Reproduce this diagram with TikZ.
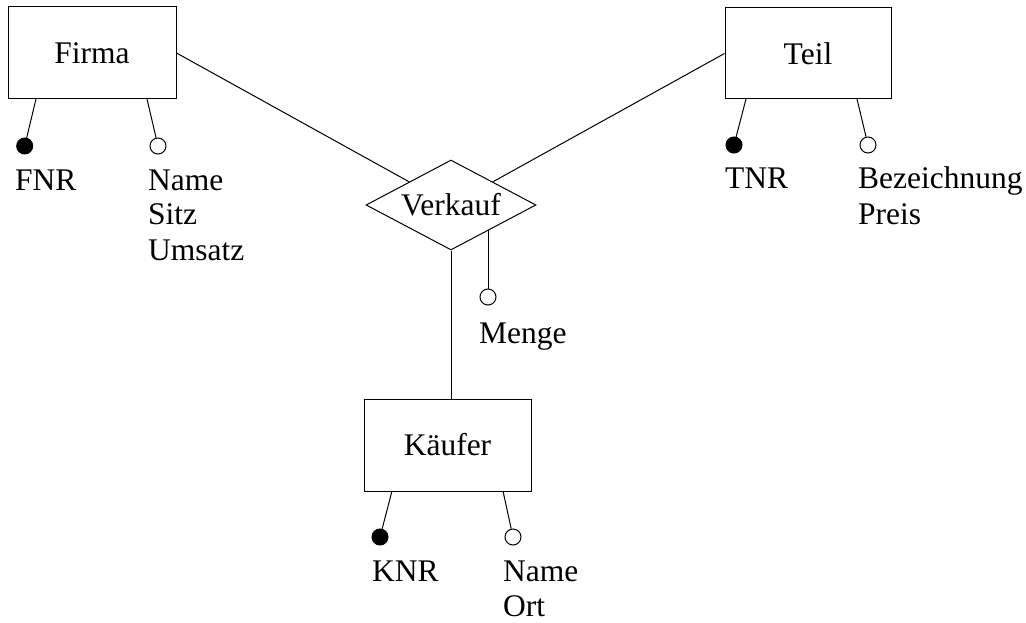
\documentclass[tikz,border=0pt]{standalone}
\usepackage{fontspec}
\setmainfont{Liberation Serif}
\usetikzlibrary{shapes.geometric}
\begin{document}
\begin{tikzpicture}[x=1pt,y=-1pt,
  every node/.style={font=\fontsize{31.5}{35}\selectfont},
  entity/.style={draw, line width=1pt, inner sep=0pt},
  relation/.style={draw, diamond, aspect=1.89, inner sep=0pt,
    minimum width=170pt, minimum height=90pt, line width=1pt},
  keyattr/.style={circle, draw, fill=black, line width=1pt,
    minimum size=16pt, inner sep=0pt},
  attr/.style={circle, draw, line width=1pt, minimum size=16pt, inner sep=0pt},
  attrtext/.style={anchor=base west, inner sep=0pt},
  link/.style={line width=1pt}]
\useasboundingbox (0,0) rectangle (1026,623);

% entities and relationship
\node[entity, minimum width=168pt, minimum height=92pt] (firma) at (92,53) {Firma};
\node[entity, minimum width=166pt, minimum height=91pt] (teil) at (808,53.5) {Teil};
\node[entity, minimum width=167pt, minimum height=92pt] (kaeufer) at (447.5,445) {Käufer};
\node[relation] (verkauf) at (451,205) {Verkauf};

% relationship lines
\draw[link] (firma.east) -- (verkauf);
\draw[link] (teil.west) -- (verkauf);
\draw[link] (verkauf.south) -- (verkauf.south |- kaeufer.north);

% attributes of Firma
\coordinate (firmaA) at (36,99);
\coordinate (firmaB) at (147,99);
\node[keyattr] (fnrdot) at (24.7,146) {};
\node[attr] (firmadot) at (158,146) {};
\draw[link] (firmaA) -- (fnrdot);
\draw[link] (firmaB) -- (firmadot);
\node[attrtext] (fnr) at (15,190) {FNR};
\node[attrtext] (fname) at (148,190) {Name};
\node[attrtext] (fsitz) at (148,225) {Sitz};
\node[attrtext] (fumsatz) at (148,260) {Umsatz};

% attributes of Teil
\coordinate (teilA) at (746,99);
\coordinate (teilB) at (857,99);
\node[keyattr] (tnrdot) at (734,145) {};
\node[attr] (teildot) at (868,145) {};
\draw[link] (teilA) -- (tnrdot);
\draw[link] (teilB) -- (teildot);
\node[attrtext] (tnr) at (725,189) {TNR};
\node[attrtext] (tbez) at (858,189) {Bezeichnung};
\node[attrtext] (tpreis) at (858,224) {Preis};

% attribute of Verkauf
\node[attr] (mengedot) at (488,297) {};
\draw[link] (verkauf.-34.5) -- (verkauf.-34.5 |- mengedot.north);
\node[attrtext] (menge) at (479,343) {Menge};

% attributes of Käufer
\coordinate (kaeuferA) at (392,491);
\coordinate (kaeuferB) at (503,491);
\node[keyattr] (knrdot) at (380,537) {};
\node[attr] (kaeuferdot) at (513,537) {};
\draw[link] (kaeuferA) -- (knrdot);
\draw[link] (kaeuferB) -- (kaeuferdot);
\node[attrtext] (knr) at (372,581) {KNR};
\node[attrtext] (kname) at (503,581) {Name};
\node[attrtext] (kort) at (503,616) {Ort};
\end{tikzpicture}
\end{document}
